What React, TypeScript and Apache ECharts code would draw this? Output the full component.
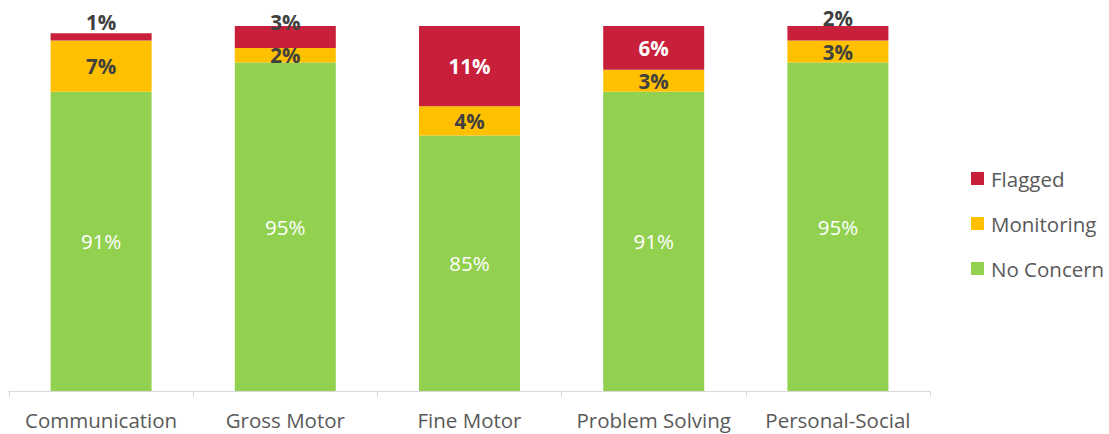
import React, { useEffect, useRef } from "react";
import * as echarts from "echarts";

const categories = ["Communication", "Gross Motor", "Fine Motor", "Problem Solving", "Personal-Social"];
const noConcern = [91, 95, 85, 91, 95];
const monitoring = [7, 2, 4, 3, 3];
const flagged = [1, 3, 11, 6, 2];

const FONT = "'Open Sans', sans-serif";
const GREEN = "#92D050";
const YELLOW = "#FFC000";
const RED = "#C81F3A";
const DARK = "#404040";
const FS = 20.5;

export default function App() {
  const ref = useRef<HTMLDivElement>(null);
  useEffect(() => {
    if (!ref.current) return;
    const chart = echarts.init(ref.current, null, { renderer: "svg" });
    const pct = (p: any) => p.value + "%";
    chart.setOption({
      animation: false,
      textStyle: { fontFamily: FONT },
      grid: { left: 9, right: 179, top: 26, bottom: 43, containLabel: false },
      legend: {
        orient: "vertical",
        left: 971,
        top: 168,
        padding: 0,
        itemWidth: 13,
        itemHeight: 13,
        itemGap: 24,
        icon: "rect",
        textStyle: { fontFamily: FONT, fontSize: FS, color: "#595959", lineHeight: 20, padding: [0, 0, 0, 2] },
        data: ["Flagged", "Monitoring", "No Concern"],
      },
      xAxis: {
        type: "category",
        data: categories,
        axisLine: { lineStyle: { color: "#D9D9D9", width: 1 } },
        axisTick: { show: true, length: 6, lineStyle: { color: "#D9D9D9" } },
        axisLabel: { fontFamily: FONT, fontSize: FS, color: "#595959", margin: 18, interval: 0 },
      },
      yAxis: {
        type: "value",
        min: 50,
        max: 100,
        show: false,
        splitLine: { show: false },
      },
      series: [
        {
          name: "No Concern",
          type: "bar",
          stack: "total",
          barWidth: 101,
          itemStyle: { color: GREEN },
          label: { show: true, position: "inside", formatter: pct, color: "#FFFFFF", fontSize: FS, fontFamily: FONT },
          data: noConcern,
        },
        {
          name: "Monitoring",
          type: "bar",
          stack: "total",
          barWidth: 101,
          itemStyle: { color: YELLOW },
          label: { show: true, position: "inside", formatter: pct, color: DARK, fontSize: FS, fontWeight: "bold", fontFamily: FONT },
          data: monitoring,
        },
        {
          name: "Flagged",
          type: "bar",
          stack: "total",
          barWidth: 101,
          itemStyle: { color: RED },
          label: { show: true, position: "inside", formatter: pct, color: "#FFFFFF", fontSize: FS, fontWeight: "bold", fontFamily: FONT },
          data: flagged.map((v) =>
            v < 5
              ? { value: v, label: { color: DARK, offset: [0, -15] } }
              : { value: v }
          ),
        },
      ],
    });
    return () => chart.dispose();
  }, []);
  return (
    <div
      ref={ref}
      style={{ position: "fixed", left: 0, top: 0, width: 1109, height: 434, background: "#fff" }}
    />
  );
}
